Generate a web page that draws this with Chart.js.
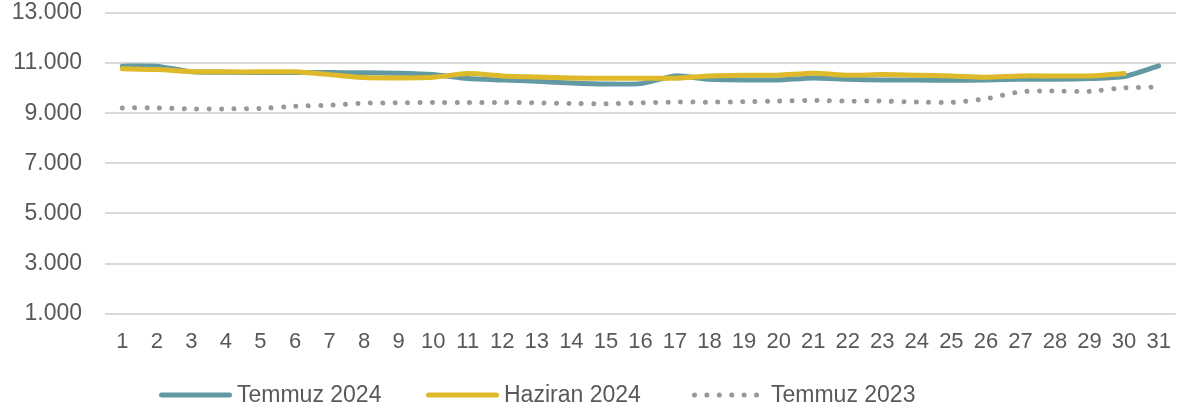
<!DOCTYPE html>
<html>
<head>
<meta charset="utf-8">
<script src="https://cdn.jsdelivr.net/npm/chart.js@4"></script>
<style>
body{margin:0;background:#fff}
#wrap{width:1186px;height:414px;position:relative}
</style>
</head>
<body>
<div id="wrap"><canvas id="line-chart"></canvas></div>
<script>
// days of the month
const days = [];
for (let d = 1; d <= 31; d++) days.push(String(d));

const temmuz2024 = [10879,10879,10650,10630,10625,10622,10622,10610,10597,10542,10381,10327,10273,10207,10166,10180,10489,10354,10327,10327,10408,10354,10327,10327,10314,10327,10354,10354,10381,10462,10891];
const haziran2024 = [10770,10742,10662,10650,10650,10650,10540,10421,10408,10435,10582,10489,10448,10408,10395,10395,10395,10489,10516,10516,10596,10516,10542,10516,10489,10435,10489,10489,10489,10582];
const temmuz2023 = [9212,9212,9172,9172,9188,9280,9320,9401,9415,9429,9429,9429,9415,9389,9375,9415,9442,9442,9455,9482,9509,9482,9482,9442,9429,9575,9858,9885,9872,10017,10033];

const yTicks = [1000,3000,5000,7000,9000,11000,13000];

const txt = '#595959';
const fam = 'Liberation Sans';

// excel style legend: line sample, small gap, text
const legendStarts = [159, 426, 692];
const bottomLegend = {
  id: 'bottomLegend',
  afterDraw(chart) {
    const ctx = chart.ctx;
    const y = 395;
    ctx.save();
    ctx.font = '23px "' + fam + '"';
    ctx.textBaseline = 'middle';
    chart.data.datasets.forEach((ds, i) => {
      const x = legendStarts[i];
      ctx.strokeStyle = ds.borderColor;
      ctx.lineWidth = 5;
      ctx.lineCap = 'round';
      ctx.setLineDash(ds.borderDash || []);
      ctx.beginPath();
      if (ds.borderDash) {
        ctx.moveTo(x + 2.5, y);
        ctx.lineTo(x + 66, y);
      } else {
        ctx.moveTo(x + 2.5, y);
        ctx.lineTo(x + 70.5, y);
      }
      ctx.stroke();
      ctx.setLineDash([]);
      ctx.fillStyle = txt;
      ctx.fillText(ds.label, x + (ds.borderDash ? 79 : 78), y + 1);
    });
    ctx.restore();
  }
};

new Chart(document.getElementById("line-chart"), {
type: 'line',
data: {
labels: days,
datasets: [{
label: "Temmuz 2024",
data: temmuz2024,
borderColor: "#6399A3",
backgroundColor: "#6399A3",
borderWidth: 5,
borderCapStyle: 'round',
pointRadius: 0,
tension: 0.2,
order: 1
},{
label: "Haziran 2024",
data: haziran2024,
borderColor: "#DEBA2A",
backgroundColor: "#DEBA2A",
borderWidth: 5,
borderCapStyle: 'round',
pointRadius: 0,
tension: 0.2,
order: 0
},{
label: "Temmuz 2023",
data: temmuz2023,
borderColor: "#989898",
backgroundColor: "#989898",
borderWidth: 5,
borderCapStyle: 'round',
borderDash: [0.01, 12.4],
pointRadius: 0,
tension: 0.2,
order: 2
}]
},
options: {
responsive: true,
maintainAspectRatio: false,
animation: false,
layout: {padding: {top: 13, right: 8, left: 0, bottom: 44}},
scales: {
x: {
offset: true,
grid: {display: false, drawTicks: false},
border: {display: false},
ticks: {color: txt, font: {family: fam, size: 22}, padding: 15, maxRotation: 0, autoSkip: false}
},
y: {
min: 1000,
max: 13000,
afterBuildTicks: (ax) => { ax.ticks = yTicks.map(v => ({value: v})); },
afterFit: (ax) => { ax.width = 105; ax.paddingTop = 0; ax.paddingBottom = 0; },
grid: {color: '#d9d9d9', lineWidth: 2, drawTicks: false},
border: {display: false},
ticks: {
color: txt, font: {family: fam, size: 23}, padding: 23,
callback: (v) => v.toLocaleString('de-DE')
}
}
},
plugins: {
tooltip: {enabled: false},
legend: {display: false}
}
},
plugins: [bottomLegend]
});
</script>
</body>
</html>
